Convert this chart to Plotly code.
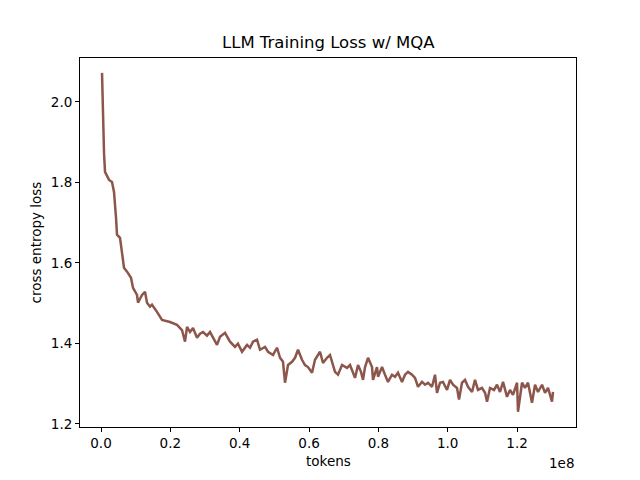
import plotly.graph_objects as go
import numpy as np

# tokens in millions
tokens_m = [0.29, 0.37, 0.58, 0.87, 1.15, 2.31, 3.17, 3.75, 4.33, 4.61, 5.48, 6.06, 6.63, 7.50, 8.65,
            9.23, 10.38, 10.67, 11.83, 12.69, 13.27, 14.13, 14.71, 16.15, 17.59, 19.90, 21.92, 23.36,
            24.23, 24.81, 25.67, 26.54, 27.69, 28.55, 29.42, 30.57, 31.44, 33.46, 34.32, 35.77, 37.21,
            38.65, 39.51, 40.67, 42.11, 42.98, 43.84, 45.00, 45.86, 47.30, 48.17, 49.61, 50.76, 51.63,
            52.49, 53.07, 53.94, 55.09, 55.96, 56.82, 57.97, 58.84, 59.71, 60.86, 61.72, 63.17, 64.03,
            65.19, 66.05, 67.49, 68.36, 69.51, 70.95, 71.82, 73.26, 74.13, 74.99, 75.57, 76.15, 77.01,
            78.17, 78.45, 79.61, 79.90, 81.05, 81.91, 82.78, 83.93, 84.80, 85.66, 86.82, 87.68, 88.55,
            89.70, 90.57, 91.43, 92.59, 93.45, 94.32, 95.47, 96.34, 96.91, 97.78, 98.64, 99.80, 100.66,
            101.53, 102.68, 103.26, 104.12, 104.99, 105.85, 107.01, 107.87, 108.74, 109.89, 110.76,
            111.34, 112.20, 113.35, 114.22, 115.08, 115.95, 117.10, 117.97, 118.83, 119.99, 120.27,
            121.43, 122.29, 123.16, 124.31, 125.18, 126.04, 127.20, 128.06, 128.93, 130.08, 130.37]

loss = [2.072, 2.035, 1.938, 1.873, 1.826, 1.806, 1.801, 1.776, 1.712, 1.670, 1.662, 1.620, 1.588, 1.578, 1.563,
        1.538, 1.520, 1.501, 1.520, 1.528, 1.501, 1.491, 1.496, 1.478, 1.458, 1.453, 1.446, 1.433,
        1.404, 1.441, 1.428, 1.438, 1.414, 1.424, 1.428, 1.419, 1.428, 1.396, 1.416, 1.426, 1.404,
        1.391, 1.399, 1.379, 1.396, 1.389, 1.404, 1.409, 1.384, 1.391, 1.379, 1.371, 1.389, 1.364,
        1.354, 1.302, 1.346, 1.354, 1.364, 1.384, 1.359, 1.346, 1.341, 1.327, 1.359, 1.379, 1.351,
        1.364, 1.371, 1.329, 1.322, 1.346, 1.339, 1.346, 1.314, 1.346, 1.329, 1.309, 1.341, 1.364,
        1.341, 1.309, 1.341, 1.317, 1.341, 1.322, 1.304, 1.322, 1.317, 1.327, 1.304, 1.322, 1.329,
        1.322, 1.314, 1.292, 1.304, 1.297, 1.302, 1.292, 1.322, 1.277, 1.302, 1.304, 1.284, 1.309,
        1.297, 1.289, 1.260, 1.302, 1.309, 1.292, 1.279, 1.309, 1.284, 1.289, 1.277,
        1.255, 1.289, 1.284, 1.297, 1.279, 1.304, 1.267, 1.284, 1.272, 1.302, 1.230,
        1.302, 1.289, 1.302, 1.252, 1.297, 1.279, 1.297, 1.277, 1.289, 1.255, 1.279]

x_tickvals = [0, 2e7, 4e7, 6e7, 8e7, 1e8, 1.2e8]
x_ticktext = ["0.0", "0.2", "0.4", "0.6", "0.8", "1.0", "1.2"]
y_tickvals = [1.2, 1.4, 1.6, 1.8, 2.0]
y_ticktext = ["1.2", "1.4", "1.6", "1.8", "2.0"]

x = np.array(tokens_m) * 1e6

font = "DejaVu Sans"
fig = go.Figure()
fig.add_trace(go.Scatter(x=x, y=loss, mode="lines",
                         line=dict(color="#8c564b", width=2.5), showlegend=False))

axis_common = dict(showgrid=False, zeroline=False, showline=True, linecolor="black",
                   linewidth=1, mirror=True, ticks="outside", ticklen=4, tickwidth=1,
                   tickcolor="black", tickfont=dict(family=font, size=13.5, color="black"))

fig.update_layout(
    width=640, height=480,
    paper_bgcolor="white", plot_bgcolor="white",
    margin=dict(l=72, r=72, t=50, b=61),
    xaxis=dict(range=[-6.06e6, 137.0e6], tickmode="array", tickvals=x_tickvals,
               ticktext=x_ticktext, **axis_common),
    yaxis=dict(range=[1.192, 2.109], tickmode="array", tickvals=y_tickvals,
               ticktext=y_ticktext, **axis_common),
    annotations=[
        dict(text="LLM Training Loss w/ MQA", x=0.5, y=1, xref="paper", yref="paper",
             xanchor="center", yanchor="bottom", yshift=4, showarrow=False,
             font=dict(family=font, size=16.5, color="black")),
        dict(text="tokens", x=0.5, y=0, xref="paper", yref="paper",
             xanchor="center", yanchor="middle", yshift=-34, showarrow=False,
             font=dict(family=font, size=13.5, color="black")),
        dict(text="cross entropy loss", x=0, y=0.5, xref="paper", yref="paper",
             xanchor="center", yanchor="middle", xshift=-45, textangle=-90, showarrow=False,
             font=dict(family=font, size=13.5, color="black")),
        dict(text="1e8", x=1, y=0, xref="paper", yref="paper",
             xanchor="right", yanchor="middle", yshift=-36, showarrow=False,
             font=dict(family=font, size=13.5, color="black")),
    ],
)

fig.write_html("out.html")
